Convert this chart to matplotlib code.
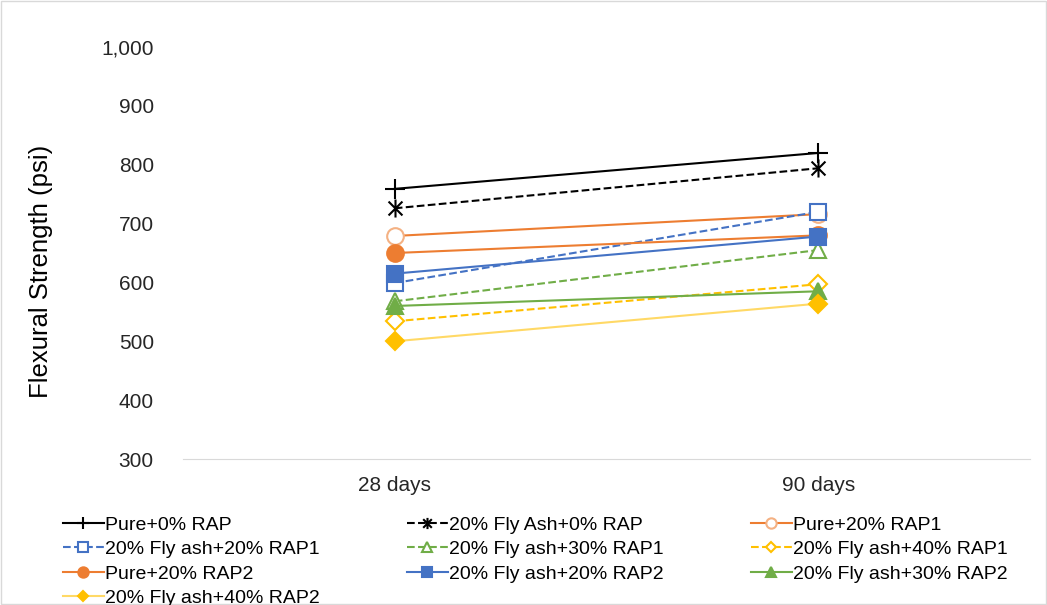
import matplotlib
matplotlib.use("Agg")
import matplotlib.pyplot as plt
from matplotlib.path import Path
from matplotlib.ticker import FuncFormatter

plt.rcParams['font.family'] = ['Liberation Sans', 'DejaVu Sans']

ages = ['28 days', '90 days']
labels = ['Pure+0% RAP', '20% Fly Ash+0% RAP', 'Pure+20% RAP1',
          '20% Fly ash+20% RAP1', '20% Fly ash+30% RAP1', '20% Fly ash+40% RAP1',
          'Pure+20% RAP2', '20% Fly ash+20% RAP2', '20% Fly ash+30% RAP2',
          '20% Fly ash+40% RAP2']
pure_0 = [759, 820]
fa_0 = [726, 794]
pure_20_r1 = [679, 716]
fa_20_r1 = [599, 720]
fa_30_r1 = [568, 655]
fa_40_r1 = [534, 597]
pure_20_r2 = [650, 680]
fa_20_r2 = [615, 678]
fa_30_r2 = [560, 585]
fa_40_r2 = [500, 564]

series = [pure_0, fa_0, pure_20_r1, fa_20_r1, fa_30_r1, fa_40_r1,
          pure_20_r2, fa_20_r2, fa_30_r2, fa_40_r2]

# excel style "star" marker: an x with a vertical bar through it
star = Path([(-1, -1), (1, 1), (-1, 1), (1, -1), (0, -1.3), (0, 1.3)],
            [Path.MOVETO, Path.LINETO, Path.MOVETO, Path.LINETO, Path.MOVETO, Path.LINETO])

# line colour, linestyle, marker, marker face, marker edge, size
styles = [
    ('black', '-', '+', 'none', 'black', 15),
    ('black', '--', star, 'none', 'black', 13),
    ('#ED7D31', '-', 'o', 'white', '#F4B183', 12),
    ('#4472C4', '--', 's', 'white', '#4472C4', 12),
    ('#70AD47', '--', '^', 'white', '#70AD47', 12),
    ('#FFC000', '--', 'D', 'white', '#FFC000', 9),
    ('#ED7D31', '-', 'o', '#ED7D31', '#ED7D31', 12),
    ('#4472C4', '-', 's', '#4472C4', '#4472C4', 12),
    ('#70AD47', '-', '^', '#70AD47', '#70AD47', 12),
    ('#FFD966', '-', 'D', '#FFC000', '#FFC000', 9),
]

fig = plt.figure(figsize=(10.47, 6.05), dpi=100)
ax = fig.add_axes([0.1748, 0.2413, 0.809, 0.681])
x = list(range(len(ages)))
handles = []
for vals, lab, (c, ls, m, mfc, mec, ms) in zip(series, labels, styles):
    h, = ax.plot(x, vals, color=c, linestyle=ls, linewidth=1.5, marker=m,
                 markersize=ms, markerfacecolor=mfc, markeredgecolor=mec,
                 markeredgewidth=1.5, label=lab)
    handles.append(h)

ax.set_xlim(-0.5, 1.5)
ax.set_ylim(300, 1000)
ax.set_yticks(range(300, 1001, 100))
ax.yaxis.set_major_formatter(FuncFormatter(lambda v, p: f'{int(v):,}'))
ax.set_xticks(x)
ax.set_xticklabels(ages)
ax.tick_params(axis='both', length=0, labelsize=15, colors='#262626')
ax.tick_params(axis='x', pad=12)
ax.tick_params(axis='y', pad=21)
for s in ['top', 'right', 'left']:
    ax.spines[s].set_visible(False)
ax.spines['bottom'].set_color('#D9D9D9')
ax.set_ylabel('Flexural Strength (psi)', fontsize=18.5)
ax.yaxis.set_label_coords(-0.153, 0.455)

# legend is filled column by column, reorder so it reads row by row
order = [0, 3, 6, 9, 1, 4, 7, 2, 5, 8]
fig.legend([handles[i] for i in order], [labels[i] for i in order],
           loc='upper left', bbox_to_anchor=(0.060, 0.147), ncol=3,
           frameon=False, fontsize=14, handlelength=2.1, handletextpad=0.05,
           columnspacing=4.5, labelspacing=0.35, markerscale=0.62,
           borderaxespad=0, borderpad=0)

fig.patches.append(plt.Rectangle((0.001, 0.001), 0.998, 0.998, transform=fig.transFigure,
                                 fill=False, edgecolor='#D9D9D9', linewidth=1))
fig.savefig('out.png', dpi=100)
